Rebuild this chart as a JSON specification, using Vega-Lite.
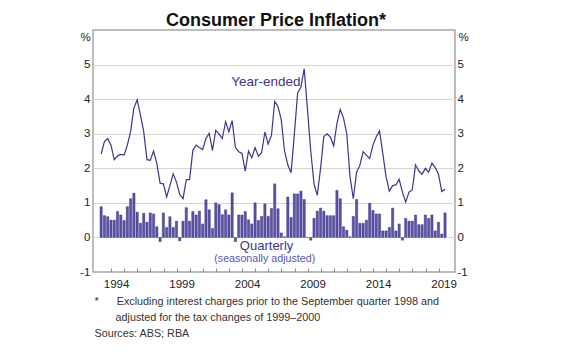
{
  "$schema": "https://vega.github.io/schema/vega-lite/v6.json",
  "width": 362,
  "height": 242,
  "autosize": {"type": "none"},
  "padding": {"left": 93, "top": 30, "right": 125, "bottom": 80},
  "background": "white",
  "config": {
    "font": "Liberation Sans",
    "view": {"stroke": "#a8a8a8", "strokeWidth": 1.5},
    "axis": {"labelFont": "Liberation Sans", "titleFont": "Liberation Sans", "labelColor": "#222222", "titleColor": "#222222"}
  },
  "title": {
    "text": "Consumer Price Inflation*",
    "font": "Liberation Sans",
    "fontSize": 18,
    "fontWeight": "bold",
    "color": "#111111",
    "anchor": "middle",
    "frame": "group",
    "dx": 2,
    "offset": 0
  },
  "data": {
    "values": [
      {"t": 1993.24, "q": 0.89, "y": 2.41},
      {"t": 1993.49, "q": 0.63, "y": 2.77},
      {"t": 1993.74, "q": 0.60, "y": 2.86},
      {"t": 1993.99, "q": 0.50, "y": 2.67},
      {"t": 1994.24, "q": 0.50, "y": 2.25},
      {"t": 1994.49, "q": 0.75, "y": 2.36},
      {"t": 1994.74, "q": 0.65, "y": 2.40},
      {"t": 1994.99, "q": 0.49, "y": 2.38},
      {"t": 1995.24, "q": 0.89, "y": 2.67},
      {"t": 1995.49, "q": 1.12, "y": 3.06},
      {"t": 1995.74, "q": 1.28, "y": 3.74},
      {"t": 1995.99, "q": 0.73, "y": 3.98},
      {"t": 1996.24, "q": 0.41, "y": 3.54},
      {"t": 1996.49, "q": 0.70, "y": 3.06},
      {"t": 1996.74, "q": 0.44, "y": 2.25},
      {"t": 1996.99, "q": 0.71, "y": 2.23},
      {"t": 1997.24, "q": 0.68, "y": 2.50},
      {"t": 1997.49, "q": 0.31, "y": 2.14},
      {"t": 1997.74, "q": -0.12, "y": 1.57},
      {"t": 1997.99, "q": 0.71, "y": 1.55},
      {"t": 1998.24, "q": 0.29, "y": 1.17},
      {"t": 1998.49, "q": 0.60, "y": 1.50},
      {"t": 1998.74, "q": 0.29, "y": 1.84},
      {"t": 1998.99, "q": 0.47, "y": 1.60},
      {"t": 1999.24, "q": -0.10, "y": 1.24},
      {"t": 1999.49, "q": 0.47, "y": 1.12},
      {"t": 1999.74, "q": 0.86, "y": 1.67},
      {"t": 1999.99, "q": 0.47, "y": 1.67},
      {"t": 2000.24, "q": 0.75, "y": 2.52},
      {"t": 2000.49, "q": 0.65, "y": 2.67},
      {"t": 2000.74, "q": 0.76, "y": 2.60},
      {"t": 2000.99, "q": 0.39, "y": 2.54},
      {"t": 2001.24, "q": 1.09, "y": 2.86},
      {"t": 2001.49, "q": 0.80, "y": 3.01},
      {"t": 2001.74, "q": 0.26, "y": 2.52},
      {"t": 2001.99, "q": 1.00, "y": 3.10},
      {"t": 2002.24, "q": 0.95, "y": 2.99},
      {"t": 2002.49, "q": 0.66, "y": 2.86},
      {"t": 2002.74, "q": 0.80, "y": 3.35},
      {"t": 2002.99, "q": 0.65, "y": 3.06},
      {"t": 2003.24, "q": 1.29, "y": 3.38},
      {"t": 2003.49, "q": -0.12, "y": 2.60},
      {"t": 2003.74, "q": 0.65, "y": 2.48},
      {"t": 2003.99, "q": 0.65, "y": 2.43},
      {"t": 2004.24, "q": 0.75, "y": 1.92},
      {"t": 2004.49, "q": 0.51, "y": 2.50},
      {"t": 2004.74, "q": 0.39, "y": 2.30},
      {"t": 2004.99, "q": 1.00, "y": 2.60},
      {"t": 2005.24, "q": 0.49, "y": 2.35},
      {"t": 2005.49, "q": 0.61, "y": 2.45},
      {"t": 2005.74, "q": 0.97, "y": 3.05},
      {"t": 2005.99, "q": 0.61, "y": 2.70},
      {"t": 2006.24, "q": 0.84, "y": 2.95},
      {"t": 2006.49, "q": 1.55, "y": 3.93},
      {"t": 2006.74, "q": 0.83, "y": 3.79},
      {"t": 2006.99, "q": 0.13, "y": 3.40},
      {"t": 2007.24, "q": 0.02, "y": 2.50},
      {"t": 2007.49, "q": 1.17, "y": 2.10},
      {"t": 2007.74, "q": 0.58, "y": 1.87},
      {"t": 2007.99, "q": 1.26, "y": 3.00},
      {"t": 2008.24, "q": 1.26, "y": 4.18},
      {"t": 2008.49, "q": 1.34, "y": 4.35},
      {"t": 2008.74, "q": 1.10, "y": 4.88},
      {"t": 2008.99, "q": 0.00, "y": 3.70},
      {"t": 2009.24, "q": -0.08, "y": 2.50},
      {"t": 2009.49, "q": 0.55, "y": 1.55},
      {"t": 2009.74, "q": 0.76, "y": 1.22},
      {"t": 2009.99, "q": 0.85, "y": 2.00},
      {"t": 2010.24, "q": 0.76, "y": 2.92},
      {"t": 2010.49, "q": 0.63, "y": 3.00},
      {"t": 2010.74, "q": 0.63, "y": 2.90},
      {"t": 2010.99, "q": 0.63, "y": 2.65},
      {"t": 2011.24, "q": 1.36, "y": 3.30},
      {"t": 2011.49, "q": 1.12, "y": 3.70},
      {"t": 2011.74, "q": 0.31, "y": 3.45},
      {"t": 2011.99, "q": 0.21, "y": 3.00},
      {"t": 2012.24, "q": 0.02, "y": 1.75},
      {"t": 2012.49, "q": 0.61, "y": 1.12},
      {"t": 2012.74, "q": 1.10, "y": 1.89},
      {"t": 2012.99, "q": 0.41, "y": 2.09},
      {"t": 2013.24, "q": 0.41, "y": 2.48},
      {"t": 2013.49, "q": 0.50, "y": 2.38},
      {"t": 2013.74, "q": 0.99, "y": 2.28},
      {"t": 2013.99, "q": 0.78, "y": 2.67},
      {"t": 2014.24, "q": 0.68, "y": 2.91},
      {"t": 2014.49, "q": 0.68, "y": 3.08},
      {"t": 2014.74, "q": 0.19, "y": 2.43},
      {"t": 2014.99, "q": 0.19, "y": 1.75},
      {"t": 2015.24, "q": 0.29, "y": 1.34},
      {"t": 2015.49, "q": 0.85, "y": 1.50},
      {"t": 2015.74, "q": 0.19, "y": 1.52},
      {"t": 2015.99, "q": 0.39, "y": 1.68},
      {"t": 2016.24, "q": -0.08, "y": 1.31},
      {"t": 2016.49, "q": 0.55, "y": 1.02},
      {"t": 2016.74, "q": 0.47, "y": 1.31},
      {"t": 2016.99, "q": 0.47, "y": 1.38},
      {"t": 2017.24, "q": 0.65, "y": 2.10},
      {"t": 2017.49, "q": 0.37, "y": 1.92},
      {"t": 2017.74, "q": 0.37, "y": 1.83},
      {"t": 2017.99, "q": 0.65, "y": 2.00},
      {"t": 2018.24, "q": 0.55, "y": 1.89},
      {"t": 2018.49, "q": 0.65, "y": 2.15},
      {"t": 2018.74, "q": 0.19, "y": 2.02},
      {"t": 2018.99, "q": 0.44, "y": 1.83},
      {"t": 2019.24, "q": 0.10, "y": 1.33},
      {"t": 2019.49, "q": 0.71, "y": 1.39}
    ]
  },
  "layer": [
    {
      "mark": {"type": "bar", "orient": "vertical", "size": 2.3, "color": "#5c52a8", "stroke": "#2f2878", "strokeWidth": 0.4},
      "encoding": {
        "x": {
          "field": "t",
          "type": "quantitative",
          "scale": {"domain": [1993, 2019.87], "nice": false, "zero": false},
          "axis": {
            "orient": "bottom",
            "values": [1994, 1995, 1996, 1997, 1998, 1999, 2000, 2001, 2002, 2003, 2004, 2005, 2006, 2007, 2008, 2009, 2010, 2011, 2012, 2013, 2014, 2015, 2016, 2017, 2018, 2019],
            "labels": false,
            "grid": false,
            "domain": false,
            "ticks": true,
            "tickSize": -4,
            "tickColor": "#8c8c8c",
            "tickWidth": 1,
            "title": [
              "*\u00a0\u00a0\u00a0\u00a0\u00a0\u00a0Excluding interest charges prior to the September quarter 1998 and",
              "\u200b\u00a0\u00a0\u00a0\u00a0\u00a0\u00a0\u00a0adjusted for the tax changes of 1999\u20132000",
              "Sources: ABS; RBA"
            ],
            "titleFontSize": 10.8,
            "titleFontWeight": "normal",
            "titleColor": "#333333",
            "titleAlign": "left",
            "titleAnchor": "start",
            "titleBaseline": "top",
            "titleX": 1,
            "titleY": 23,
            "titleLineHeight": 16
          }
        },
        "y": {
          "field": "q",
          "type": "quantitative",
          "scale": {"domain": [-1, 6], "nice": false, "zero": false},
          "axis": {
            "orient": "left",
            "values": [-1, 0, 1, 2, 3, 4, 5],
            "labelExpr": "datum.value < 0 ? '-' + abs(datum.value) : datum.label",
            "grid": true,
            "gridColor": "#d6d6d6",
            "gridWidth": 1,
            "gridOpacity": {"condition": {"test": "datum.value < 0", "value": 0}, "value": 1},
            "domain": false,
            "ticks": false,
            "labelPadding": 3,
            "labelFontSize": 11.5,
            "title": "%",
            "titleAngle": 0,
            "titleX": -8,
            "titleY": 7,
            "titleAlign": "center",
            "titleBaseline": "middle",
            "titleFontWeight": "normal",
            "titleFontSize": 11.5
          }
        }
      }
    },
    {
      "mark": {"type": "line", "color": "#3b378c", "strokeWidth": 1.2},
      "encoding": {
        "x": {
          "field": "t",
          "type": "quantitative",
          "axis": {
            "orient": "bottom",
            "values": [1994, 1999, 2004, 2009, 2014, 2019],
            "format": "d",
            "labelOffset": 5,
            "labelPadding": 6,
            "labelFontSize": 11.5,
            "labelFlush": false,
            "labelOverlap": false,
            "labelBound": false,
            "ticks": false,
            "domain": false,
            "grid": false,
            "title": null
          }
        },
        "y": {
          "field": "y",
          "type": "quantitative",
          "axis": {
            "orient": "right",
            "values": [-1, 0, 1, 2, 3, 4, 5],
            "labelExpr": "datum.value < 0 ? '-' + abs(datum.value) : datum.label",
            "grid": false,
            "domain": false,
            "ticks": false,
            "labelPadding": 2,
            "labelFontSize": 11.5,
            "title": "%",
            "titleAngle": 0,
            "titleX": 8,
            "titleY": 7,
            "titleAlign": "center",
            "titleBaseline": "middle",
            "titleFontWeight": "normal",
            "titleFontSize": 11.5
          }
        }
      }
    },
    {
      "data": {"values": [{}]},
      "mark": {"type": "text", "font": "Liberation Sans", "fontSize": 13.5, "color": "#3b378c", "align": "center", "baseline": "middle"},
      "encoding": {
        "x": {"datum": 2005.82, "type": "quantitative", "axis": null},
        "y": {"datum": 4.5, "type": "quantitative", "axis": null},
        "text": {"value": "Year-ended"}
      }
    },
    {
      "data": {"values": [{}]},
      "mark": {"type": "text", "font": "Liberation Sans", "fontSize": 13, "color": "#3b378c", "align": "center", "baseline": "middle"},
      "encoding": {
        "x": {"datum": 2005.87, "type": "quantitative", "axis": null},
        "y": {"datum": -0.25, "type": "quantitative", "axis": null},
        "text": {"value": "Quarterly"}
      }
    },
    {
      "data": {"values": [{}]},
      "mark": {"type": "text", "font": "Liberation Sans", "fontSize": 10.7, "color": "#5a56ad", "align": "center", "baseline": "middle"},
      "encoding": {
        "x": {"datum": 2005.73, "type": "quantitative", "axis": null},
        "y": {"datum": -0.63, "type": "quantitative", "axis": null},
        "text": {"value": "(seasonally adjusted)"}
      }
    }
  ],
  "resolve": {"axis": {"x": "independent", "y": "independent"}}
}
